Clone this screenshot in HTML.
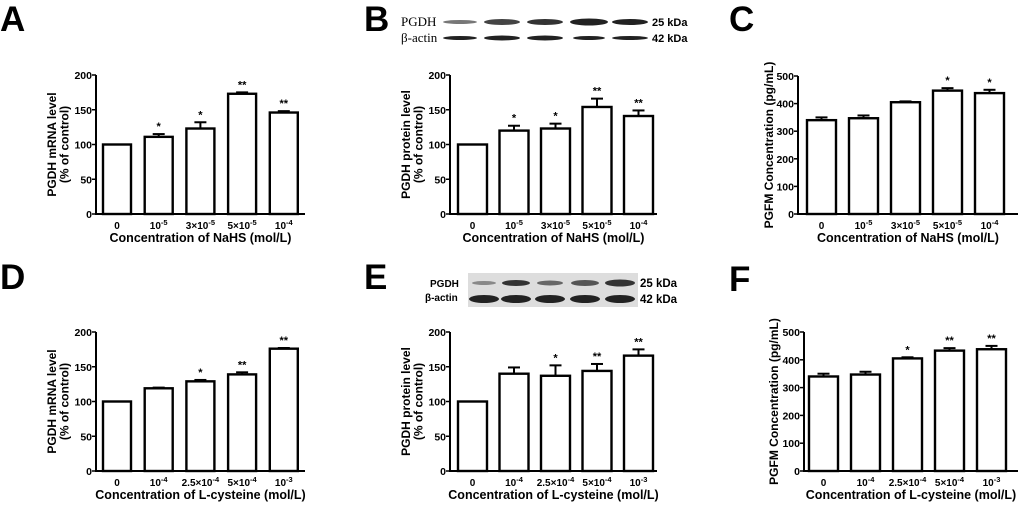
<!DOCTYPE html><html><head><meta charset="utf-8"><style>
html,body{margin:0;padding:0;background:#fff}
svg text{font-family:"Liberation Sans",Arial,sans-serif;font-weight:bold;fill:#000}
</style></head><body>
<svg id="s" width="1023" height="505" xmlns="http://www.w3.org/2000/svg">
<text x="0" y="31" font-size="35">A</text>
<text x="364" y="31" font-size="35">B</text>
<text x="729" y="31" font-size="35">C</text>
<text x="0" y="289" font-size="35">D</text>
<text x="364" y="289" font-size="35">E</text>
<text x="729" y="291" font-size="35">F</text>
<text x="401" y="26" font-size="13" style="font-family:'Liberation Serif',serif;font-weight:normal">PGDH</text>
<text x="401" y="42" font-size="13" style="font-family:'Liberation Serif',serif;font-weight:normal">β-actin</text>
<g fill="#222">
<ellipse cx="460" cy="22" rx="17" ry="2" fill="#777"/><ellipse cx="502" cy="22" rx="18" ry="3" fill="#444"/><ellipse cx="545" cy="22" rx="18" ry="3" fill="#333"/><ellipse cx="589" cy="22" rx="19" ry="3.5"/><ellipse cx="630" cy="22" rx="18" ry="3"/>
<ellipse cx="460" cy="38" rx="17" ry="2"/><ellipse cx="502" cy="38" rx="18" ry="2.5"/><ellipse cx="545" cy="38" rx="18" ry="2.5"/><ellipse cx="589" cy="38" rx="16" ry="2"/><ellipse cx="630" cy="38" rx="18" ry="2"/>
</g>
<text x="652" y="26" font-size="11">25 kDa</text>
<text x="652" y="42" font-size="11">42 kDa</text>
<rect x="468" y="273" width="170" height="34" fill="#ddd"/>
<text x="430" y="287" font-size="10">PGDH</text>
<text x="425" y="301" font-size="10">β-actin</text>
<g fill="#333">
<ellipse cx="484" cy="283" rx="12" ry="2" fill="#888"/><ellipse cx="516" cy="283" rx="14" ry="3"/><ellipse cx="550" cy="283" rx="13" ry="2.5" fill="#666"/><ellipse cx="585" cy="283" rx="14" ry="3" fill="#555"/><ellipse cx="620" cy="283" rx="15" ry="3.5"/>
<ellipse cx="484" cy="299" rx="15" ry="4" fill="#222"/><ellipse cx="516" cy="299" rx="15" ry="4" fill="#222"/><ellipse cx="550" cy="299" rx="15" ry="4" fill="#222"/><ellipse cx="585" cy="299" rx="15" ry="4" fill="#222"/><ellipse cx="620" cy="299" rx="15" ry="4" fill="#222"/>
</g>
<text x="640" y="287" font-size="11.5">25 kDa</text>
<text x="640" y="303" font-size="11.5">42 kDa</text>
</svg>
<script>
var s=document.getElementById('s'),NS='http://www.w3.org/2000/svg';
function el(t,a,txt){var e=document.createElementNS(NS,t);for(var k in a)e.setAttribute(k,a[k]);if(txt!=null)e.innerHTML=txt;s.appendChild(e);return e;}
function panel(p){
 var ax=p.ax,y0=p.y0,yt=p.yt,max=p.max,sc=(y0-yt)/max;
 el('line',{x1:ax,y1:yt,x2:ax,y2:y0+1,stroke:'#000','stroke-width':2});
 el('line',{x1:ax-1,y1:y0,x2:p.xe,y2:y0,stroke:'#000','stroke-width':2});
 for(var i=0;i<=max;i+=p.step){var y=y0-i*sc;el('line',{x1:ax-4,y1:y,x2:ax,y2:y,stroke:'#000','stroke-width':1.5});el('text',{x:ax-4,y:y+4,'font-size':10.5,'text-anchor':'end'},i);}
 for(var j=0;j<5;j++){var x=p.b0+j*p.pitch,v=p.v[j],e=p.e[j],top=y0-v*sc;
  el('rect',{x:x,y:top,width:p.bw,height:y0-top,fill:'#fff',stroke:'#000','stroke-width':2.4});
  var cx=x+p.bw/2;
  if(e){var ty=top-e*sc;el('line',{x1:cx,y1:top,x2:cx,y2:ty,stroke:'#000','stroke-width':2});el('line',{x1:cx-6,y1:ty,x2:cx+6,y2:ty,stroke:'#000','stroke-width':2});}
  if(p.st[j])el('text',{x:cx,y:top-e*sc-4,'font-size':11,'text-anchor':'middle'},p.st[j]);
  el('text',{x:cx,y:y0+15,'font-size':10,'text-anchor':'middle'},p.t[j]);
 }
 el('text',{x:(ax+p.xe)/2,y:y0+28,'font-size':12.5,'text-anchor':'middle'},p.xl);
 var cy=(yt+y0)/2;
 p.yl.forEach(function(l,k){el('text',{x:0,y:0,'font-size':12,'text-anchor':'middle',transform:'translate('+(p.ylx+k*12.5)+','+cy+') rotate(-90)'},l);});
}
var sup=function(a,b){return a+'<tspan dy="-4" font-size="7.5">'+b+'</tspan>';};
var tN=['0',sup('10','-5'),sup('3×10','-5'),sup('5×10','-5'),sup('10','-4')];
var tL=['0',sup('10','-4'),sup('2.5×10','-4'),sup('5×10','-4'),sup('10','-3')];
var yP=['PGDH mRNA level','(% of control)'],yQ=['PGDH protein level','(% of control)'],yC=['PGFM Concentration (pg/mL)'];
panel({ax:96,y0:214,yt:75,max:200,step:50,xe:305,b0:103,pitch:41.7,bw:28,v:[100,111,123,173,146],e:[0,4,9,2,2],st:['','*','*','**','**'],t:tN,xl:'Concentration of NaHS (mol/L)',yl:yP,ylx:56});
panel({ax:450,y0:214,yt:75,max:200,step:50,xe:657,b0:458,pitch:41.5,bw:29,v:[100,120,123,154,141],e:[0,7,7,12,8],st:['','*','*','**','**'],t:tN,xl:'Concentration of NaHS (mol/L)',yl:yQ,ylx:410});
panel({ax:798,y0:214,yt:76,max:500,step:100,xe:1018,b0:807,pitch:42,bw:29,v:[340,347,405,447,438],e:[10,10,3,9,12],st:['','','','*','*'],t:tN,xl:'Concentration of NaHS (mol/L)',yl:yC,ylx:773});
panel({ax:96,y0:471,yt:332,max:200,step:50,xe:305,b0:103,pitch:41.7,bw:28,v:[100,119,129,139,176],e:[0,1,2,3,1],st:['','','*','**','**'],t:tL,xl:'Concentration of L-cysteine (mol/L)',yl:yP,ylx:56});
panel({ax:450,y0:471,yt:332,max:200,step:50,xe:657,b0:458,pitch:41.5,bw:29,v:[100,140,137,144,166],e:[0,9,15,10,9],st:['','','*','**','**'],t:tL,xl:'Concentration of L-cysteine (mol/L)',yl:yQ,ylx:410});
panel({ax:804,y0:471,yt:332,max:500,step:100,xe:1018,b0:809,pitch:42,bw:29,v:[340,347,405,433,438],e:[10,10,4,9,12],st:['','','*','**','**'],t:tL,xl:'Concentration of L-cysteine (mol/L)',yl:yC,ylx:778});
</script>
</body></html>
